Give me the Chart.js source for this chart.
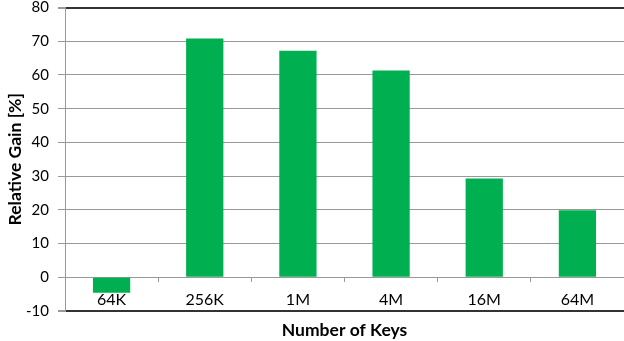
<!DOCTYPE html>
<html>
<head>
<meta charset="utf-8">
<script src="https://cdn.jsdelivr.net/npm/chart.js@4/dist/chart.umd.min.js"></script>
<style>
  html, body { margin: 0; padding: 0; background: #fff; }
  canvas { display: block; }
</style>
</head>
<body>
<canvas id="gainChart" width="624" height="341"></canvas>
<script>
const keyCounts = ['64K', '256K', '1M', '4M', '16M', '64M'];
const relativeGain = [-4.6, 70.8, 67.2, 61.3, 29.3, 19.9];
const gainTicks = [-10, 0, 10, 20, 30, 40, 50, 60, 70, 80];

const FONT = 'Lato, "Liberation Sans", sans-serif';

// top and bottom gridlines are drawn as a dark frame
function isFrameLine(v) {
  return v === gainTicks[0] || v === gainTicks[gainTicks.length - 1];
}

const ctx = document.getElementById('gainChart').getContext('2d');

window.gainChart = new Chart(ctx, {
  type: 'bar',
  data: {
    labels: keyCounts,
    datasets: [{
      label: 'Relative Gain',
      data: relativeGain,
      backgroundColor: '#00B050',
      borderWidth: 0,
      barPercentage: 0.4,
      categoryPercentage: 1.0
    }]
  },
  options: {
    responsive: false,
    animation: false,
    layout: { padding: { left: 5, right: 0, top: 0, bottom: 30 } },
    plugins: {
      legend: { display: false },
      tooltip: { enabled: false }
    },
    scales: {
      x: {
        // category labels sit on the zero line, not at the bottom
        position: { y: 0 },
        offset: true,
        afterFit: axis => {
          axis.paddingLeft = 0;
          axis.paddingRight = 0;
        },
        border: { display: false },
        grid: {
          offset: true,
          drawOnChartArea: false,
          drawTicks: true,
          tickLength: 5,
          color: '#999999'
        },
        ticks: {
          color: '#000',
          padding: 8,
          font: { family: FONT, size: 16 },
          maxRotation: 0
        },
        title: {
          display: true,
          text: 'Number of Keys',
          color: '#000',
          font: { family: FONT, size: 17.5, weight: 'bold' },
          padding: { top: 2, bottom: 0 }
        }
      },
      y: {
        min: -10,
        max: 80,
        afterBuildTicks: axis => {
          axis.ticks = gainTicks.map(v => ({ value: v }));
        },
        afterFit: axis => {
          axis.width = 60;
          axis.paddingTop = 7.5;
          axis.paddingBottom = 7.5;
        },
        border: { display: true, color: '#999999', width: 1 },
        grid: {
          color: c => isFrameLine(c.tick.value) ? '#333333' : '#999999',
          lineWidth: c => isFrameLine(c.tick.value) ? 2 : 1,
          tickLength: 7,
          tickColor: '#999999'
        },
        ticks: {
          color: '#000',
          padding: 9,
          font: { family: FONT, size: 15, lineHeight: 1 }
        },
        title: {
          display: true,
          text: 'Relative Gain [%]',
          color: '#000',
          font: { family: FONT, size: 17.5, weight: 'bold' },
          padding: { top: 0, bottom: 3 }
        }
      }
    }
  }
});
</script>
</body>
</html>
